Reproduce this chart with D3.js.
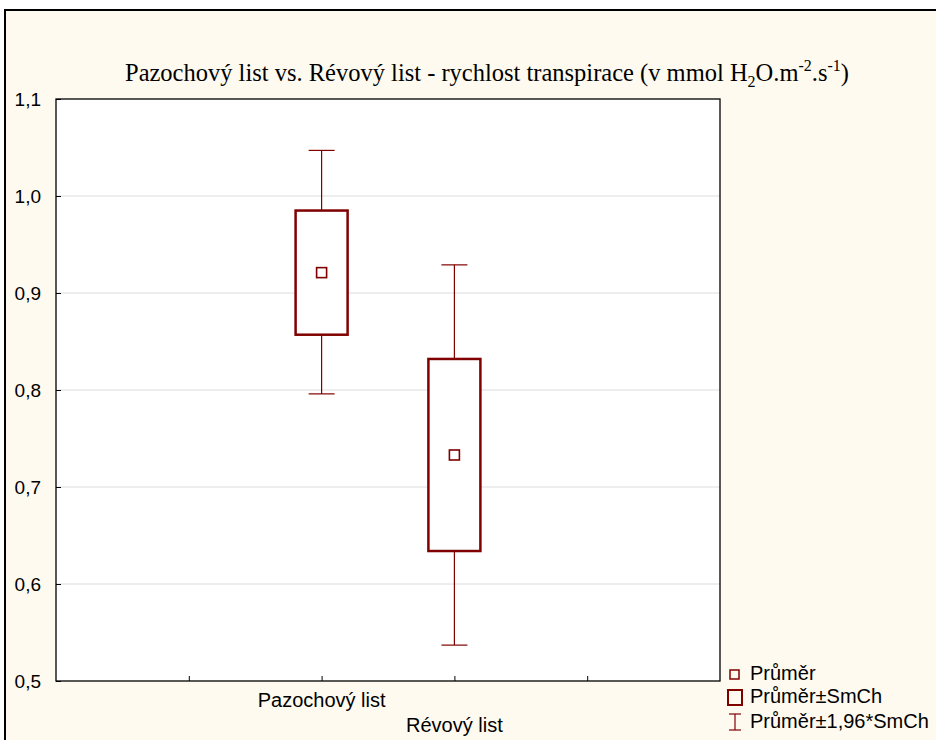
<!DOCTYPE html>
<html>
<head>
<meta charset="utf-8">
<script src="https://cdn.jsdelivr.net/npm/d3@7"></script>
<style>
  body { margin: 0; background: #fff; }
</style>
</head>
<body>
<div id="chart"></div>
<script>
var groups = ["Pazochový list", "Révový list"];
var means = [0.921, 0.733];
var seLow = [0.857, 0.634];
var seHigh = [0.985, 0.832];
var ciLow = [0.796, 0.537];
var ciHigh = [1.047, 0.929];
var yTicks = [0.5, 0.6, 0.7, 0.8, 0.9, 1.0, 1.1];
var legendItems = ["Průměr", "Průměr±SmCh", "Průměr±1,96*SmCh"];

var W = 936, H = 740;
var margin = {top: 99, right: 216, bottom: 59, left: 56},
    width = W - margin.left - margin.right,
    height = H - margin.top - margin.bottom;
var red = "#800000";
var sans = "'Liberation Sans', Arial, sans-serif";

var svg = d3.select("#chart").append("svg")
    .attr("width", W)
    .attr("height", H);

// outer panel
svg.append("rect")
    .attr("x", 5).attr("y", 10)
    .attr("width", W + 10).attr("height", H + 10)
    .attr("fill", "#fefaef")
    .attr("stroke", "#000")
    .attr("stroke-width", 2);

svg.append("text")
    .attr("x", 487).attr("y", 81)
    .attr("text-anchor", "middle")
    .style("font-family", "'Liberation Serif', 'Times New Roman', serif")
    .style("font-size", "24.5px")
    .html("Pazochový list vs. Révový list - rychlost transpirace (v mmol H<tspan dy='6' font-size='16px'>2</tspan><tspan dy='-6'>O.m</tspan><tspan dy='-10' font-size='16px'>-2</tspan><tspan dy='10'>.s</tspan><tspan dy='-10' font-size='16px'>-1</tspan><tspan dy='10'>)</tspan>");

var g = svg.append("g")
    .attr("transform", "translate(" + margin.left + "," + margin.top + ")");

// x positions: 5 slots, groups at 2 and 3
var x = d3.scaleLinear().domain([0, 5]).range([0, width]);
var y = d3.scaleLinear().domain([0.5, 1.1]).range([height, 0]);

g.append("rect")
    .attr("width", width).attr("height", height)
    .attr("fill", "#fff");

g.append("g")
    .selectAll("line")
    .data(yTicks.slice(1, -1))
    .join("line")
    .attr("x1", 0).attr("x2", width)
    .attr("y1", function(d) { return y(d); })
    .attr("y2", function(d) { return y(d); })
    .attr("stroke", "#dcdcdc")
    .attr("stroke-width", 1);

var yAxis = g.append("g")
    .call(d3.axisLeft(y)
        .tickValues(yTicks)
        .tickSize(-5)
        .tickPadding(15)
        .tickFormat(function(d) { return d3.format(".1f")(d).replace(".", ","); }));
yAxis.select(".domain").remove();
yAxis.selectAll("text")
    .style("font-family", sans)
    .style("font-size", "19px")
    .attr("fill", "#000");

var xAxis = g.append("g")
    .attr("transform", "translate(0," + height + ")")
    .call(d3.axisBottom(x)
        .tickValues([1, 2, 3, 4])
        .tickSize(-5)
        .tickFormat(""));
xAxis.select(".domain").remove();

g.append("rect")
    .attr("width", width).attr("height", height)
    .attr("fill", "none")
    .attr("stroke", "#000")
    .attr("stroke-width", 1.3);

// category labels, staggered
g.selectAll(".xlab")
    .data(groups)
    .join("text")
    .attr("class", "xlab")
    .attr("x", function(d, i) { return x(i + 2); })
    .attr("y", function(d, i) { return height + 26 + i * 25; })
    .attr("text-anchor", "middle")
    .style("font-family", sans)
    .style("font-size", "20px")
    .text(function(d) { return d; });

var boxW = 52, capW = 26, mk = 10;
var boxes = g.selectAll(".box")
    .data(groups)
    .join("g")
    .attr("class", "box")
    .attr("transform", function(d, i) { return "translate(" + x(i + 2) + ",0)"; });

boxes.append("line")
    .attr("x1", 0).attr("x2", 0)
    .attr("y1", function(d, i) { return y(ciHigh[i]); })
    .attr("y2", function(d, i) { return y(seHigh[i]); })
    .attr("stroke", red).attr("stroke-width", 1.2);
boxes.append("line")
    .attr("x1", 0).attr("x2", 0)
    .attr("y1", function(d, i) { return y(seLow[i]); })
    .attr("y2", function(d, i) { return y(ciLow[i]); })
    .attr("stroke", red).attr("stroke-width", 1.2);
boxes.append("line")
    .attr("x1", -capW / 2).attr("x2", capW / 2)
    .attr("y1", function(d, i) { return y(ciHigh[i]); })
    .attr("y2", function(d, i) { return y(ciHigh[i]); })
    .attr("stroke", red).attr("stroke-width", 1.2);
boxes.append("line")
    .attr("x1", -capW / 2).attr("x2", capW / 2)
    .attr("y1", function(d, i) { return y(ciLow[i]); })
    .attr("y2", function(d, i) { return y(ciLow[i]); })
    .attr("stroke", red).attr("stroke-width", 1.2);
boxes.append("rect")
    .attr("x", -boxW / 2)
    .attr("width", boxW)
    .attr("y", function(d, i) { return y(seHigh[i]); })
    .attr("height", function(d, i) { return y(seLow[i]) - y(seHigh[i]); })
    .attr("fill", "#fff")
    .attr("stroke", red).attr("stroke-width", 2.5);
boxes.append("rect")
    .attr("x", -mk / 2)
    .attr("width", mk)
    .attr("y", function(d, i) { return y(means[i]) - mk / 2; })
    .attr("height", mk)
    .attr("fill", "#fff")
    .attr("stroke", red).attr("stroke-width", 1.6);

// legend
var lg = svg.append("g").attr("transform", "translate(735,0)");
var ly = [674, 697, 722];
lg.append("rect").attr("x", -5).attr("y", ly[0] - 4).attr("width", 9).attr("height", 9)
    .attr("fill", "none").attr("stroke", red).attr("stroke-width", 1.5);
lg.append("rect").attr("x", -7).attr("y", ly[1] - 7).attr("width", 14).attr("height", 15)
    .attr("fill", "none").attr("stroke", red).attr("stroke-width", 2);
lg.append("line").attr("x1", 0).attr("x2", 0).attr("y1", ly[2] - 8).attr("y2", ly[2] + 8)
    .attr("stroke", red).attr("stroke-width", 1.2);
lg.append("line").attr("x1", -6).attr("x2", 6).attr("y1", ly[2] - 8).attr("y2", ly[2] - 8)
    .attr("stroke", red).attr("stroke-width", 1.2);
lg.append("line").attr("x1", -6).attr("x2", 6).attr("y1", ly[2] + 8).attr("y2", ly[2] + 8)
    .attr("stroke", red).attr("stroke-width", 1.2);
lg.selectAll("text")
    .data(legendItems)
    .join("text")
    .attr("x", 15)
    .attr("y", function(d, i) { return ly[i] + 6; })
    .style("font-family", sans)
    .style("font-size", "20px")
    .text(function(d) { return d; });
</script>
</body>
</html>
